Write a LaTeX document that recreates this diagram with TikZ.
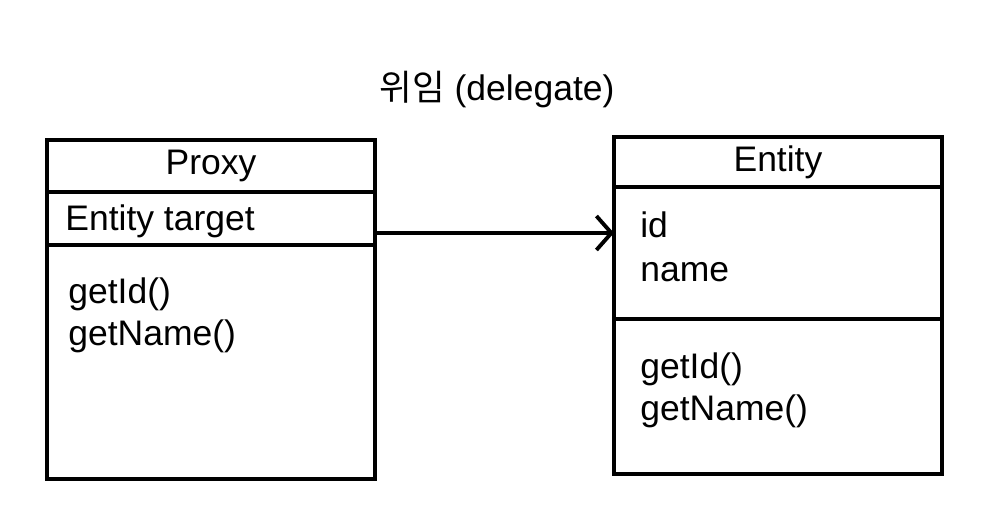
\documentclass[tikz,border=0pt]{standalone}
\usepackage{fontspec}
\setmainfont{Liberation Sans}
\newfontfamily\kofont{Noto Sans CJK KR}
\usetikzlibrary{positioning, arrows.meta}

\begin{document}
\begin{tikzpicture}[x=0.02cm, y=-0.02cm,
        font=\fontsize{20.2}{24}\selectfont,
        part/.style={draw, line width=2.2pt, rectangle, minimum width=6.56cm, outer sep=0pt, inner sep=0pt},
        txt/.style={anchor=base west, inner sep=0pt},
        conn/.style={line width=2.2pt, -{Straight Barb[length=0.3cm, width=0.68cm, line width=2.2pt]}}]
        \useasboundingbox (0,0) rectangle (1001,529);

        % Title
        \node[anchor=base, inner sep=0pt] (title) at (497,100) {{\kofont 위임} (delegate)};

        % Proxy class
        \node[part, minimum height=1.04cm, anchor=north west] (proxyhead) at (47,140) {Proxy};
        \node[part, minimum height=1.06cm, below=0pt of proxyhead] (proxyattr) {};
        \node[part, minimum height=4.68cm, below=0pt of proxyattr] (proxyops) {};
        \node[txt] (ptarget) at (65,230) {Entity target};
        \node[txt] (pgetid) at (68,303) {getId()};
        \node[txt] (pgetname) at (68,345) {getName()};

        % Entity class
        \node[part, minimum height=1.0cm, anchor=north west] (entityhead) at (614,137) {Entity};
        \node[part, minimum height=2.64cm, below=0pt of entityhead] (entityattr) {};
        \node[part, minimum height=3.1cm, below=0pt of entityattr] (entityops) {};
        \node[txt] (eid) at (640,237) {id};
        \node[txt] (ename) at (640,281) {name};
        \node[txt] (egetid) at (640,378) {getId()};
        \node[txt] (egetname) at (640,420) {getName()};

        % Edges
        \coordinate (delegend) at (entityattr.west |- 0,233);
        \draw[conn] (proxyattr.east |- delegend) -- (delegend);
    \end{tikzpicture}
\end{document}
